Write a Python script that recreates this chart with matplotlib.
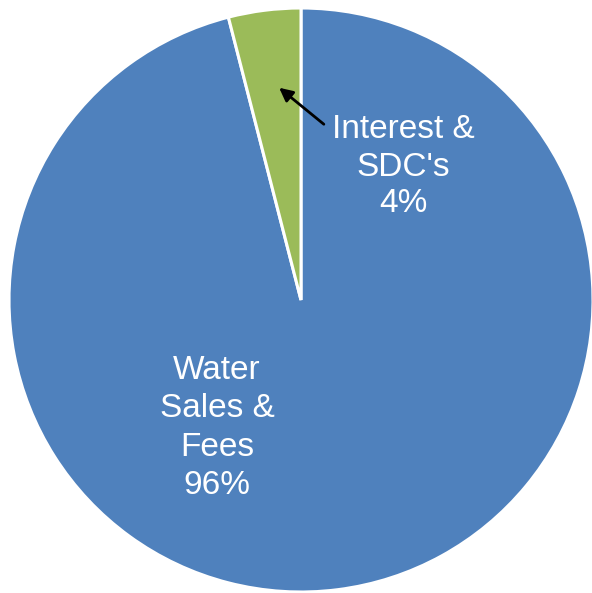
import matplotlib.pyplot as plt

# revenue split
categories = ["Water\nSales &\nFees", "Interest &\nSDC's"]
shares = [96, 4]
colors = ["#4F81BD", "#9BBB59"]

plt.rcParams['font.family'] = ['Liberation Sans', 'DejaVu Sans']

fig = plt.figure(figsize=(5.92, 5.93), dpi=100)
ax = fig.add_axes([0, 0, 1, 1])

# center of the pie in pixels and its radius
cx, cy, r = 301, 300, 292

ax.pie(shares, colors=colors, startangle=90, counterclock=False,
       wedgeprops=dict(edgecolor='white', linewidth=2.2))
ax.set_aspect('auto')
ax.set_xlim(-cx / r, (592 - cx) / r)
ax.set_ylim(-(593 - cy) / r, cy / r)
ax.axis('off')


def px(x, y):
    return (x - cx) / r, (cy - y) / r


ax.text(*px(217, 428), "%s\n%d%%" % (categories[0], shares[0]), ha='center', va='center',
        color='white', fontsize=24, linespacing=1.3)
ax.text(*px(403, 167), "%s\n%d%%" % (categories[1], shares[1]), ha='center', va='center',
        color='white', fontsize=24, linespacing=1.25)
ax.annotate("", xy=px(277, 86), xytext=px(326, 126),
            arrowprops=dict(arrowstyle='-|>', color='black', lw=2, mutation_scale=20))

fig.savefig("out.png", dpi=100)
